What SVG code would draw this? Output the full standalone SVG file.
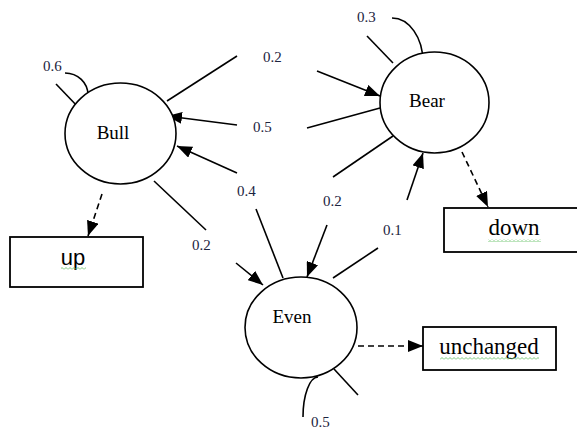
<svg xmlns="http://www.w3.org/2000/svg" width="577" height="429" viewBox="0 0 577 429">
<style>
.node{fill:#fff;stroke:#000;stroke-width:1.6}
.box{fill:#fff;stroke:#000;stroke-width:1.8}
.ln{fill:none;stroke:#000;stroke-width:1.6}
.dash{stroke-dasharray:6 4}
.nt{font-family:"Liberation Serif",serif;font-size:19px;fill:#000;text-anchor:middle}
.lb{font-family:"Liberation Serif",serif;font-size:15px;fill:#1c2340}
.bt{font-family:"Liberation Serif",serif;font-size:23px;fill:#000;text-anchor:middle}
.bs{font-family:"Liberation Sans",Arial,sans-serif;font-size:22px;fill:#000;text-anchor:middle}
.sq{fill:url(#zig)}
</style>
<defs>
<marker id="ah" markerWidth="16" markerHeight="12" refX="15" refY="6" orient="auto" markerUnits="userSpaceOnUse">
<path d="M0,0 L15,6 L0,12 Z" fill="#000"/>
</marker>
<pattern id="zig" width="4" height="3" patternUnits="userSpaceOnUse">
<polyline points="0,2.5 2,0.5 4,2.5" fill="none" stroke="#6cc46c" stroke-width="0.9"/>
</pattern>
</defs>

<g id="connectors">
<line class="ln" x1="167" y1="101" x2="237" y2="56"/>
<line class="ln" x1="317" y1="71" x2="380" y2="96" marker-end="url(#ah)"/>
<line class="ln" x1="380" y1="108" x2="307" y2="128"/>
<line class="ln" x1="237" y1="125" x2="167" y2="116" marker-end="url(#ah)"/>
<line class="ln" x1="283" y1="278" x2="256" y2="209"/>
<line class="ln" x1="237" y1="173" x2="177" y2="146" marker-end="url(#ah)"/>
<line class="ln" x1="154" y1="181" x2="206" y2="230"/>
<line class="ln" x1="236" y1="263" x2="263" y2="285" marker-end="url(#ah)"/>
<line class="ln" x1="393" y1="136" x2="333" y2="177"/>
<line class="ln" x1="327" y1="225" x2="307" y2="277" marker-end="url(#ah)"/>
<line class="ln" x1="333" y1="278" x2="378" y2="248"/>
<line class="ln" x1="407" y1="200" x2="423" y2="153" marker-end="url(#ah)"/>
<line class="ln dash" x1="102" y1="194" x2="88" y2="236" marker-end="url(#ah)"/>
<line class="ln dash" x1="462" y1="152" x2="488" y2="207" marker-end="url(#ah)"/>
<line class="ln dash" x1="358" y1="346" x2="423" y2="346" marker-end="url(#ah)"/>
<path class="ln" d="M65,73 A23,22 0 0 1 88,95"/>
<line class="ln" x1="56" y1="84" x2="80" y2="109"/>
<path class="ln" d="M392,18 A31,44 0 0 1 423,62"/>
<line class="ln" x1="367" y1="36" x2="393" y2="63"/>
<path class="ln" d="M318,377 A15,40 0 0 0 303,417"/>
<line class="ln" x1="334" y1="369" x2="358" y2="395"/>
<text class="lb" x="43" y="71">0.6</text>
<text class="lb" x="263" y="62">0.2</text>
<text class="lb" x="253" y="132">0.5</text>
<text class="lb" x="237" y="196">0.4</text>
<text class="lb" x="192" y="250">0.2</text>
<text class="lb" x="323" y="206">0.2</text>
<text class="lb" x="383" y="235">0.1</text>
<text class="lb" x="357" y="22">0.3</text>
<text class="lb" x="311" y="427">0.5</text>
</g>

<g id="bull">
<ellipse class="node" cx="120.5" cy="133.5" rx="55.5" ry="50.5"/>
<text class="nt" x="113" y="139">Bull</text>
</g>
<g id="bear">
<ellipse class="node" cx="434.5" cy="102.5" rx="54.5" ry="50.5"/>
<text class="nt" x="427" y="107">Bear</text>
</g>
<g id="even">
<ellipse class="node" cx="301" cy="327.5" rx="56" ry="50.5"/>
<text class="nt" x="292" y="323">Even</text>
</g>
<g id="up">
<rect class="box" x="10" y="237" width="133" height="50"/>
<text class="bs" x="73" y="265">up</text>
<rect class="sq" x="61" y="267" width="25" height="3"/>
</g>
<g id="down">
<rect class="box" x="444" y="208" width="145" height="44"/>
<text class="bt" x="514" y="235">down</text>
<rect class="sq" x="488" y="239" width="53" height="3"/>
</g>
<g id="unchanged">
<rect class="box" x="423" y="327" width="133" height="43"/>
<text class="bt" x="489" y="354">unchanged</text>
<rect class="sq" x="440" y="357" width="99" height="3"/>
</g>
</svg>
